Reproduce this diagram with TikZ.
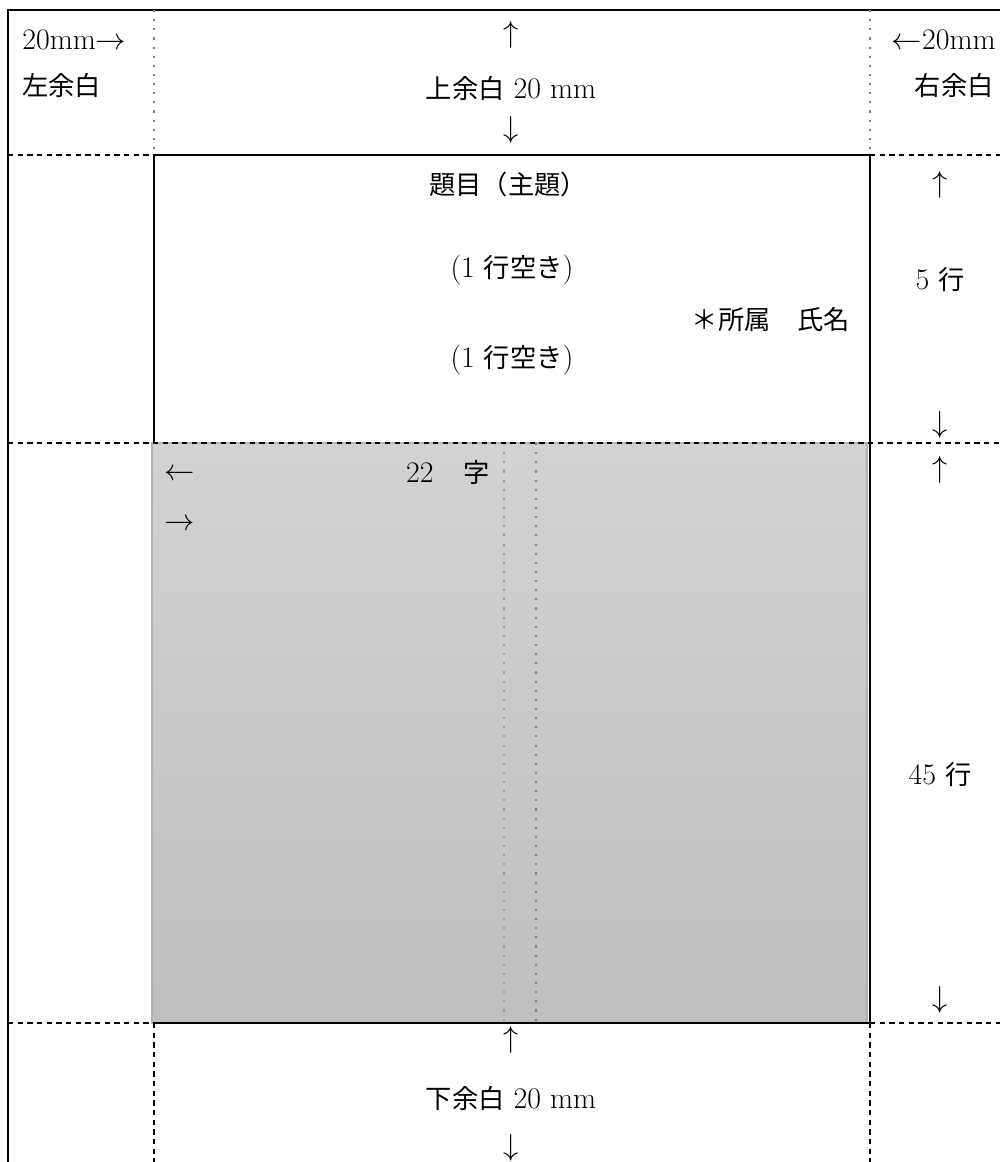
\documentclass[tikz,border=0pt]{standalone}
\usepackage{fontspec}
\newfontfamily\jpfont[Scale=0.88]{Noto Sans CJK JP}
\usetikzlibrary{positioning}

\begin{document}
\begin{tikzpicture}[x=0.02cm,y=-0.02cm,
  every node/.style={font=\fontsize{17}{20}\selectfont, inner sep=0pt},
  frame/.style={line width=1.4pt},
  guide/.style={gray, line width=1.2pt, dash pattern=on 1.2pt off 4pt},
  cut/.style={line width=1.2pt, dash pattern=on 3pt off 2.5pt}]
\useasboundingbox (0,0) rectangle (1000,1162);

% body area
\shade[top color=gray!35, bottom color=gray!50, draw=gray!60, line width=1pt] (152,443) rectangle (867,1023);
\draw[guide, gray!80] (504,443) -- (504,1023);
\draw[guide] (536,443) -- (536,1023);

% outer frame and margin lines
\draw[frame] (1000,10) -- (8,10) -- (8,1162);
\draw[guide] (154,10) -- (154,155);
\draw[guide] (870,10) -- (870,155);
\draw[cut] (8,155) -- (154,155);
\draw[cut] (870,155) -- (1000,155);
\draw[cut] (8,443) -- (1000,443);
\draw[cut] (8,1023) -- (154,1023);
\draw[cut] (870,1023) -- (1000,1023);
\draw[cut] (154,1023) -- (154,1162);
\draw[cut] (870,1023) -- (870,1162);
\draw[frame] (154,443) -- (154,155) -- (870,155) -- (870,1023) -- (154,1023);

% margins
\node[anchor=west] (lmm) at (22,40) {20mm$\rightarrow$};
\node[anchor=west] (lname) at (22,85) {\jpfont 左余白};
\node[anchor=east] (rmm) at (996,40) {$\leftarrow$20mm};
\node[anchor=east] (rname) at (994,85) {\jpfont 右余白};
\node (tup) at (511,35) {$\uparrow$};
\node (tname) at (511,88) {{\jpfont 上余白} 20 mm};
\node (tdown) at (511,130) {$\downarrow$};

% title block
\node (title) at (508,185) {\jpfont 題目（主題）};
\node (blankA) at (512,270) {({1} {\jpfont 行空き})};
\node[anchor=east] (author) at (850,320) {\jpfont ＊所属　氏名};
\node (blankB) at (512,360) {({1} {\jpfont 行空き})};
\node (up5) at (940,185) {$\uparrow$};
\node (rows5) at (940,280) {5 {\jpfont 行}};
\node (down5) at (940,425) {$\downarrow$};

% body
\node (cleft) at (180,475) {$\leftarrow$};
\node[anchor=east] (chars) at (490,472) {22\quad{\jpfont 字}};
\node (cright) at (180,525) {$\rightarrow$};
\node (up45) at (940,470) {$\uparrow$};
\node (rows45) at (940,775) {45 {\jpfont 行}};
\node (down45) at (940,1000) {$\downarrow$};

% bottom margin
\node (bup) at (511,1040) {$\uparrow$};
\node (bname) at (511,1098) {{\jpfont 下余白} 20 mm};
\node (bdown) at (511,1148) {$\downarrow$};
\end{tikzpicture}
\end{document}
